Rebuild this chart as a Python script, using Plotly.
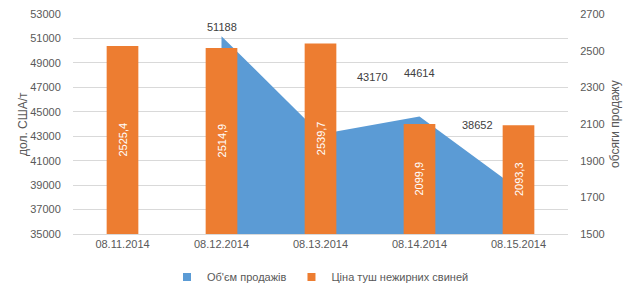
import plotly.graph_objects as go

categories = ["08.11.2014", "08.12.2014", "08.13.2014", "08.14.2014", "08.15.2014"]
volume = [None, 51188, 43170, 44614, 38652]
price = [2525.4, 2514.9, 2539.7, 2099.9, 2093.3]
left_ticks = [35000, 37000, 39000, 41000, 43000, 45000, 47000, 49000, 51000, 53000]
right_ticks = [1500, 1700, 1900, 2100, 2300, 2500, 2700]

# label offsets (pixels) for area value labels
vol_label_shift = [None, (0, 9), (52, 57), (0, 44), (-41, 64)]

BLUE = "#5b9bd5"
ORANGE = "#ed7d31"
GRAY = "#595959"
FONT = "Liberation Sans"
Y2_MIN = right_ticks[0]

xs = list(range(len(categories)))

fig = go.Figure()
fig.add_trace(go.Scatter(
    x=[x for x, v in zip(xs, volume) if v is not None],
    y=[v for v in volume if v is not None],
    mode="lines", fill="tozeroy", fillcolor=BLUE,
    line=dict(width=0, color=BLUE), name="Об'єм продажів",
    yaxis="y", hoverinfo="skip", showlegend=False,
))
fig.add_trace(go.Bar(
    x=xs, y=price, width=0.32, marker=dict(color=ORANGE, line=dict(width=0)),
    name="Ціна туш нежирних свиней", yaxis="y2", showlegend=False,
))
# legend entries with square swatches
fig.add_trace(go.Scatter(x=[None], y=[None], mode="markers", name="Об'єм продажів",
                         marker=dict(symbol="square", size=8, color=BLUE)))
fig.add_trace(go.Scatter(x=[None], y=[None], mode="markers", name="Ціна туш нежирних свиней",
                         marker=dict(symbol="square", size=8, color=ORANGE)))

for x, v, s in zip(xs, volume, vol_label_shift):
    if v is None:
        continue
    fig.add_annotation(x=x, y=v, xref="x", yref="y", text=str(v), showarrow=False,
                       xshift=s[0], yshift=s[1],
                       font=dict(size=11, color="#404040", family=FONT))

for x, v in zip(xs, price):
    fig.add_annotation(x=x, y=(Y2_MIN + v) / 2, xref="x", yref="y2",
                       text=f"{v:.1f}".replace(".", ","), showarrow=False, textangle=-90,
                       font=dict(size=11, color="white", family=FONT))

# axis titles
fig.add_annotation(x=-0.101, y=0.5, xref="paper", yref="paper", text="дол. США/т",
                   xanchor="center", yanchor="middle",
                   showarrow=False, textangle=-90, font=dict(size=12, color=GRAY, family=FONT))
fig.add_annotation(x=1.095, y=0.5, xref="paper", yref="paper", text="обсяги продажу",
                   xanchor="center", yanchor="middle",
                   showarrow=False, textangle=-90, font=dict(size=12, color=GRAY, family=FONT))

fig.update_layout(
    width=636, height=293,
    margin=dict(l=73, r=68, t=14, b=59, autoexpand=False),
    paper_bgcolor="white", plot_bgcolor="white",
    font=dict(family=FONT, size=11, color=GRAY),
    showlegend=True,
    legend=dict(orientation="h", x=0.5, xanchor="center", y=-0.13, yanchor="top",
                font=dict(size=11, color=GRAY), traceorder="normal",
                itemwidth=30, bgcolor="rgba(0,0,0,0)"),
    xaxis=dict(range=[-0.5, 4.5], tickmode="array", tickvals=xs, ticktext=categories,
               showgrid=False, showline=True, linecolor="#d9d9d9", ticks="",
               tickfont=dict(size=11, color=GRAY), zeroline=False, automargin=False),
    yaxis=dict(range=[35000, 53000], tickmode="array", tickvals=left_ticks,
               ticktext=[str(t) for t in left_ticks],
               showgrid=True, gridcolor="#d9d9d9", zeroline=False, showline=False,
               tickfont=dict(size=11, color=GRAY), automargin=False,
               ticks="outside", ticklen=9, tickcolor="rgba(0,0,0,0)"),
    yaxis2=dict(range=[1500, 2700], tickmode="array", tickvals=right_ticks,
                ticktext=[str(t) for t in right_ticks],
                overlaying="y", side="right", showgrid=False, zeroline=False,
                tickfont=dict(size=11, color=GRAY), automargin=False,
                ticks="outside", ticklen=9, tickcolor="rgba(0,0,0,0)"),
)

fig.write_html("out.html")
